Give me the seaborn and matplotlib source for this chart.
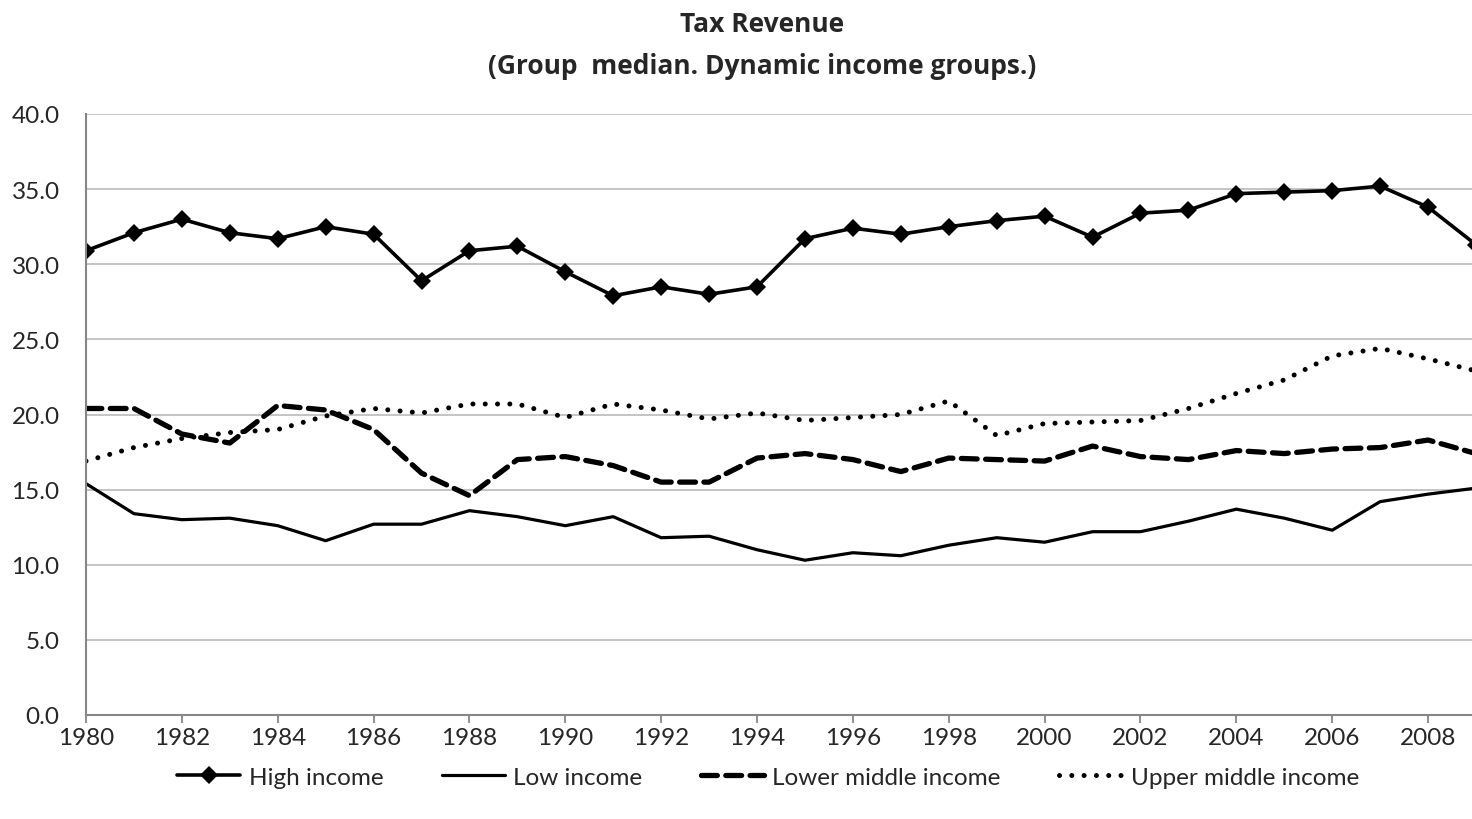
import matplotlib
matplotlib.use("Agg")
import matplotlib.pyplot as plt
from matplotlib.ticker import FormatStrFormatter, MultipleLocator
from matplotlib.lines import Line2D
import seaborn as sns
import pandas as pd

years = list(range(1980, 2010))

high_income = [30.9, 32.1, 33.0, 32.1, 31.7, 32.5, 32.0, 28.9, 30.9, 31.2,
               29.5, 27.9, 28.5, 28.0, 28.5, 31.7, 32.4, 32.0, 32.5, 32.9,
               33.2, 31.8, 33.4, 33.6, 34.7, 34.8, 34.9, 35.2, 33.8, 31.3]
low_income = [15.4, 13.4, 13.0, 13.1, 12.6, 11.6, 12.7, 12.7, 13.6, 13.2,
              12.6, 13.2, 11.8, 11.9, 11.0, 10.3, 10.8, 10.6, 11.3, 11.8,
              11.5, 12.2, 12.2, 12.9, 13.7, 13.1, 12.3, 14.2, 14.7, 15.1]
lower_middle = [20.4, 20.4, 18.7, 18.1, 20.6, 20.3, 19.0, 16.1, 14.6, 17.0,
                17.2, 16.6, 15.5, 15.5, 17.1, 17.4, 17.0, 16.2, 17.1, 17.0,
                16.9, 17.9, 17.2, 17.0, 17.6, 17.4, 17.7, 17.8, 18.3, 17.4]
upper_middle = [16.9, 17.8, 18.4, 18.8, 19.0, 19.9, 20.4, 20.1, 20.7, 20.7,
                19.8, 20.7, 20.3, 19.7, 20.1, 19.6, 19.8, 20.0, 20.9, 18.6,
                19.4, 19.5, 19.6, 20.4, 21.4, 22.3, 23.9, 24.4, 23.7, 22.9]

series_names = ["High income", "Low income", "Lower middle income", "Upper middle income"]
series_values = [high_income, low_income, lower_middle, upper_middle]
x_ticks = list(range(1980, 2009, 2))

sns.set_style("white")
plt.rcParams["font.family"] = ["Lato", "DejaVu Sans"]

fig = plt.figure(figsize=(14.72, 8.20), dpi=100)
W, H = 1472, 820
left, right, top, bottom = 86, 1476, 115, 716
ax = fig.add_axes([left / W, 1 - bottom / H, (right - left) / W, (bottom - top) / H])

styles = {
    "High income": dict(linestyle="-", linewidth=2.6, marker="D", markersize=9,
                        markeredgewidth=0),
    "Low income": dict(linestyle="-", linewidth=2.3),
    "Lower middle income": dict(linestyle=(0, (3.0, 1.6)), linewidth=3.8,
                                dash_capstyle="round"),
    "Upper middle income": dict(linestyle=(0, (0.01, 2.45)), linewidth=3.6,
                                dash_capstyle="round"),
}

for name, vals in zip(series_names, series_values):
    df = pd.DataFrame({"year": years, "value": vals})
    st = dict(styles[name])
    ls = st.pop("linestyle")
    sns.lineplot(data=df, x="year", y="value", ax=ax, color="black",
                 label=None, legend=False, **st)
    ax.lines[-1].set_linestyle(ls)
    if "dash_capstyle" in st:
        ax.lines[-1].set_dash_capstyle(st["dash_capstyle"])

ax.set_xlim(1980, 2009)
ax.set_ylim(0, 40)
ax.yaxis.set_major_locator(MultipleLocator(5))
ax.yaxis.set_major_formatter(FormatStrFormatter("%.1f"))
ax.set_xticks(x_ticks)
ax.set_xticklabels([str(y) for y in x_ticks])
ax.grid(axis="y", color="#BFBFBF", linewidth=1.3)
ax.set_axisbelow(True)
ax.set_xlabel("")
ax.set_ylabel("")

for s in ["top", "right"]:
    ax.spines[s].set_visible(False)
for s in ["left", "bottom"]:
    ax.spines[s].set_color("#868686")
    ax.spines[s].set_linewidth(1.5)

ax.tick_params(axis="x", which="major", direction="out", length=6, width=1.3,
               color="#868686", labelsize=17.5, pad=3, bottom=True)
ax.tick_params(axis="y", which="major", length=0, labelsize=17.5, pad=19)

title_font = dict(family=["Open Sans", "DejaVu Sans"], fontsize=19, fontweight="bold")
cx = 762 / W
fig.text(cx, 1 - 25 / H, "Tax Revenue", ha="center", va="center", **title_font)
fig.text(cx, 1 - 66 / H, "(Group  median. Dynamic income groups.)",
         ha="center", va="center", **title_font)

handles = []
for name in series_names:
    st = dict(styles[name])
    ls = st.pop("linestyle")
    cap = st.pop("dash_capstyle", None)
    h = Line2D([], [], color="black", linestyle=ls, **st)
    if cap:
        h.set_dash_capstyle(cap)
    handles.append(h)

fig.legend(handles, series_names, loc="center", bbox_to_anchor=(768 / W, 1 - 778 / H),
           ncol=4, frameon=False, fontsize=17.5, handlelength=2.6,
           handletextpad=0.35, columnspacing=2.4)

fig.savefig("out.png", dpi=100)
